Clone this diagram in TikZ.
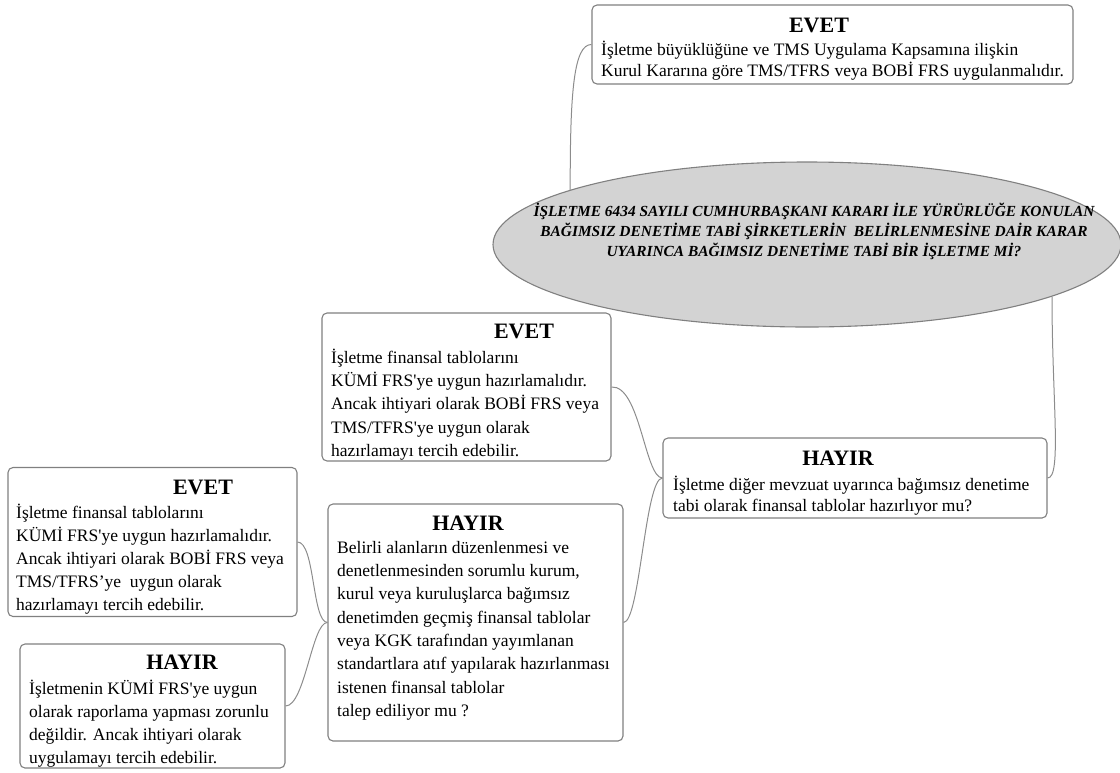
\documentclass[tikz,border=0pt]{standalone}
\usepackage{fontspec}
\setmainfont{Liberation Serif}
\usetikzlibrary{shapes.geometric}
\definecolor{boxgray}{HTML}{808080}
\definecolor{linegray}{HTML}{8C8C8C}
\definecolor{ellfill}{HTML}{D3D3D3}
\tikzset{
  box/.style={draw=boxgray, line width=1.1pt, rounded corners=5pt, inner sep=0pt},
  link/.style={draw=linegray, line width=1pt},
  ttl/.style={font=\fontsize{22}{24}\selectfont\bfseries, anchor=base, inner sep=0pt},
  body/.style={align=left, anchor=base west, inner sep=0pt},
}
\newcommand{\bodyfont}[1]{\fontsize{17.5}{#1}\selectfont}
\begin{document}
\begin{tikzpicture}[x=1pt,y=-1pt]
\useasboundingbox (0,0) rectangle (1120,772);
% question ellipse
\node (q) [ellipse, draw=boxgray, line width=1.1pt, fill=ellfill, minimum width=628pt, minimum height=165pt, inner sep=0pt] at (807,244.5) {};
\node (qt) [align=center, anchor=base, inner sep=0pt, font=\fontsize{15.4}{20.3}\selectfont\bfseries\itshape] at (814,256.6)
 {İŞLETME 6434 SAYILI CUMHURBAŞKANI KARARI İLE YÜRÜRLÜĞE KONULAN\\
  BAĞIMSIZ DENETİME TABİ ŞİRKETLERİN\ \ BELİRLENMESİNE DAİR KARAR\\
  UYARINCA BAĞIMSIZ DENETİME TABİ BİR İŞLETME Mİ?};
% boxes
\node (e1) [box, minimum width=481pt, minimum height=79pt] at (832.5,44.5) {};
\node (h1) [box, minimum width=384pt, minimum height=80pt] at (855,478) {};
\node (e2) [box, minimum width=289pt, minimum height=148pt] at (466.5,387) {};
\node (h2) [box, minimum width=295pt, minimum height=237pt] at (475.5,622.5) {};
\node (e3) [box, minimum width=289pt, minimum height=149pt] at (152.5,542) {};
\node (h3) [box, minimum width=265pt, minimum height=124pt] at (152.5,706) {};
% titles
\node (e1t) [ttl] at (819,32) {EVET};
\node (h1t) [ttl] at (838,465) {HAYIR};
\node (e2t) [ttl] at (524,338) {EVET};
\node (h2t) [ttl] at (468,530) {HAYIR};
\node (e3t) [ttl] at (203,494) {EVET};
\node (h3t) [ttl] at (182,669) {HAYIR};
% bodies (anchored at the baseline of the last line)
\node (e1b) [body, font=\bodyfont{21}] at (601,76)
 {İşletme büyüklüğüne ve TMS Uygulama Kapsamına ilişkin\\
  Kurul Kararına göre TMS/TFRS veya BOBİ FRS uygulanmalıdır.};
\node (h1b) [body, font=\bodyfont{21.7}] at (673,511.7)
 {İşletme diğer mevzuat uyarınca bağımsız denetime\\
  tabi olarak finansal tablolar hazırlıyor mu?};
\node (e2b) [body, font=\bodyfont{23.3}] at (331,456.5)
 {İşletme finansal tablolarını\\
  KÜMİ FRS\textquotesingle ye uygun hazırlamalıdır.\\
  Ancak ihtiyari olarak BOBİ FRS veya\\
  TMS/TFRS\textquotesingle ye uygun olarak\\
  hazırlamayı tercih edebilir.};
\node (h2b) [body, font=\bodyfont{23.3}] at (337,716.4)
 {Belirli alanların düzenlenmesi ve\\
  denetlenmesinden sorumlu kurum,\\
  kurul veya kuruluşlarca bağımsız\\
  denetimden geçmiş finansal tablolar\\
  veya KGK tarafından yayımlanan\\
  standartlara atıf yapılarak hazırlanması\\
  istenen finansal tablolar\\
  talep ediliyor mu ?};
\node (e3b) [body, font=\bodyfont{23}] at (16,610)
 {İşletme finansal tablolarını\\
  KÜMİ FRS\textquotesingle ye uygun hazırlamalıdır.\\
  Ancak ihtiyari olarak BOBİ FRS veya\\
  TMS/TFRS’ye\ \ uygun olarak\\
  hazırlamayı tercih edebilir.};
\node (h3b) [body, font=\bodyfont{22.7}] at (29,763)
 {İşletmenin KÜMİ FRS\textquotesingle ye uygun\\
  olarak raporlama yapması zorunlu\\
  değildir. Ancak ihtiyari olarak\\
  uygulamayı tercih edebilir.};
% connectors
\draw[link] (q.167.4) .. controls (570,90) and (574,44.5) .. (e1.west);
\draw[link] (q.-12.5) .. controls (1052,400) and (1062,478) .. (h1.east);
\draw[link] (e2.east) .. controls (640,385) and (645,478) .. (h1.west);
\draw[link] (h1.west) .. controls (645,478) and (640,622) .. (h2.east);
\draw[link] (e3.east) .. controls (315,542) and (312,622) .. (h2.west);
\draw[link] (h2.west) .. controls (312,622) and (305,706) .. (h3.east);
\end{tikzpicture}
\end{document}
